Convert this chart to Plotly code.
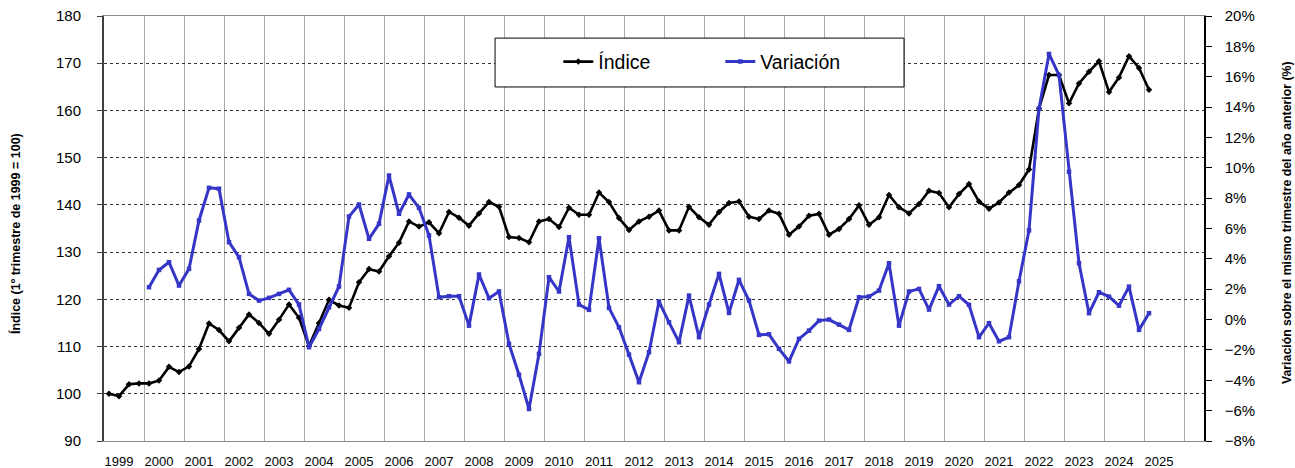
import plotly.graph_objects as go

years = list(range(1999, 2026))
quarters = [f"{y}T{q}" for y in years for q in (1, 2, 3, 4)]

indice = [
    100.0, 99.5, 102.0, 102.2, 102.2, 102.8, 105.7, 104.6, 105.8, 109.5,
    114.9, 113.5, 111.1, 114.0, 116.8, 115.0, 112.7, 115.7, 118.9, 116.1,
    110.1, 115.0, 119.9, 118.7, 118.2, 123.6, 126.4, 125.9, 129.1, 132.0,
    136.5, 135.4, 136.3, 134.0, 138.5, 137.3, 135.6, 138.2, 140.6, 139.6,
    133.2, 133.0, 132.1, 136.5, 137.0, 135.3, 139.4, 137.9, 137.9, 142.6,
    140.6, 137.2, 134.7, 136.5, 137.5, 138.8, 134.6, 134.6, 139.6, 137.4,
    135.8, 138.5, 140.4, 140.7, 137.5, 137.0, 138.8, 138.1, 133.7, 135.4,
    137.7, 138.1, 133.7, 134.9, 137.0, 139.9, 135.8, 137.4, 142.1, 139.5,
    138.2, 140.2, 143.0, 142.5, 139.5, 142.3, 144.4, 140.7, 139.2, 140.5,
    142.6, 144.2, 147.5, 160.4, 167.5, 167.5, 161.5, 165.7, 168.2, 170.4,
    163.9, 167.0, 171.5, 169.0, 164.4,
]

# variation starts at 2000T1
variacion = [
    2.13, 3.27, 3.78, 2.24, 3.34, 6.53, 8.68, 8.62, 5.10, 4.11,
    1.69, 1.25, 1.43, 1.69, 1.96, 0.99, -1.82, -0.62, 0.81, 2.18,
    6.79, 7.58, 5.32, 6.31, 9.49, 6.97, 8.24, 7.36, 5.54, 1.47,
    1.54, 1.54, -0.40, 2.97, 1.41, 1.85, -1.60, -3.63, -5.89, -2.26,
    2.79, 1.85, 5.43, 0.99, 0.64, 5.36, 0.77, -0.51, -2.31, -4.13,
    -2.15, 1.19, -0.18, -1.49, 1.58, -1.16, 0.99, 3.01, 0.44, 2.62,
    1.25, -1.01, -0.97, -1.93, -2.75, -1.27, -0.73, -0.07, 0.00, -0.33,
    -0.68, 1.47, 1.52, 1.91, 3.71, -0.40, 1.85, 2.02, 0.66, 2.20,
    0.99, 1.54, 0.97, -1.16, -0.24, -1.43, -1.16, 2.52, 5.88, 13.90,
    17.50, 16.10, 9.74, 3.71, 0.42, 1.80, 1.51, 0.92, 2.17, -0.68,
    0.42,
]

x_ind = list(range(len(indice)))
x_var = list(range(4, 4 + len(variacion)))
year_ticks = [4 * k + 1 for k in range(len(years))]
year_labels = [str(y) for y in years]

FONT = "Arial, Liberation Sans, sans-serif"
BLUE = "#3535c8"

fig = go.Figure()
fig.add_trace(go.Scatter(
    x=x_ind, y=indice, name="Índice", mode="lines+markers",
    line=dict(color="black", width=2.6),
    marker=dict(symbol="diamond", size=5, color="black"),
    customdata=quarters[:len(indice)],
))
fig.add_trace(go.Scatter(
    x=x_var, y=variacion, name="Variación", mode="lines+markers",
    line=dict(color=BLUE, width=3),
    marker=dict(symbol="square", size=4.5, color=BLUE),
    yaxis="y2",
))

fig.update_layout(
    width=1295, height=468,
    margin=dict(l=104, r=91, t=16, b=27),
    paper_bgcolor="white", plot_bgcolor="white",
    font=dict(family=FONT, color="black"),
    showlegend=True,
    legend=dict(
        orientation="h", x=0.413, y=0.892, xanchor="left", yanchor="middle",
        bgcolor="rgba(0,0,0,0)", borderwidth=0,
        font=dict(size=19.5, family=FONT),
        entrywidth=117, entrywidthmode="pixels",
    ),
    xaxis=dict(
        range=[-0.5, 109.5], tickmode="array", tickvals=year_ticks, ticktext=year_labels,
        showgrid=False, zeroline=False, ticks="", ticklabelstandoff=8,
        tickfont=dict(size=13, family=FONT), automargin=False,
        showline=True, mirror=True, linecolor="#8a8a8a", linewidth=1,
        minor=dict(tick0=3.5, dtick=4, showgrid=True, gridcolor="#a8a8a8",
                   gridwidth=1, ticks=""),
    ),
    yaxis=dict(
        range=[90, 180], dtick=10, tick0=90, automargin=False,
        showgrid=True, gridcolor="#333333", griddash="dot", gridwidth=1,
        zeroline=False, ticks="outside", ticklen=5, tickcolor="#404040",
        ticklabelstandoff=13,
        tickfont=dict(size=15, family=FONT),
        showline=True, linecolor="#404040", linewidth=2,
    ),
    yaxis2=dict(
        range=[-8, 20], dtick=2, tick0=-8, overlaying="y", side="right", automargin=False,
        showgrid=False, zeroline=False, ticks="outside", ticklen=6, tickcolor="black",
        ticksuffix="%", ticklabelstandoff=10,
        tickfont=dict(size=15, family=FONT),
        showline=True, linecolor="black", linewidth=1.5,
    ),
    shapes=[dict(
        type="rect", xref="paper", yref="paper",
        x0=0.3555, x1=0.7273, y0=0.833, y1=0.948,
        line=dict(color="black", width=1), fillcolor="white", layer="above",
    )],
    annotations=[
        dict(text="<b>Índice (1º trimestre de 1999 = 100)</b>", xref="paper", yref="paper",
             x=-0.081, y=0.489, textangle=-90, showarrow=False,
             font=dict(size=12.5, family=FONT), xanchor="center", yanchor="middle"),
        dict(text="<b>Variación sobre el mismo trimestre del año anterior (%)</b>",
             xref="paper", yref="paper", x=1.0755, y=0.513, textangle=-90, showarrow=False,
             font=dict(size=12.3, family=FONT), xanchor="center", yanchor="middle"),
    ],
)

fig.write_html("out.html", config={"displayModeBar": False},
               post_script="document.body.style.margin='0px';")
